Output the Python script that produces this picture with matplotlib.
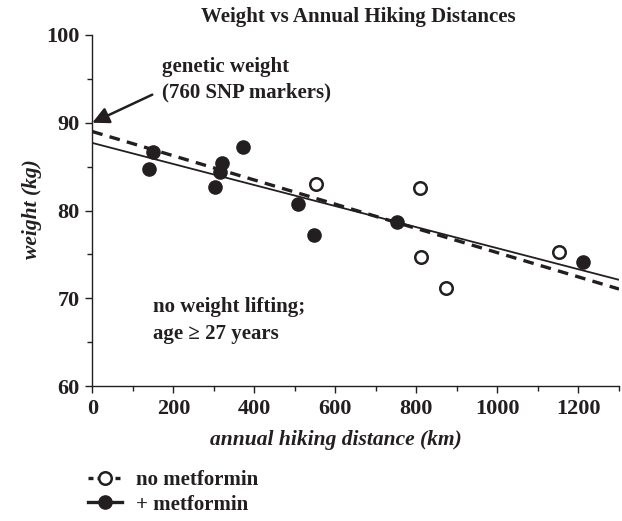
import matplotlib
matplotlib.use("Agg")
import matplotlib.pyplot as plt
from matplotlib.lines import Line2D
from matplotlib.ticker import MultipleLocator

plt.rcParams['font.family'] = ['Liberation Serif', 'DejaVu Serif']

INK = '#231f20'

# + metformin (filled)
met_x = [139, 151, 302, 315, 320, 372, 507, 546, 752, 1210]
met_y = [84.7, 86.7, 82.65, 84.4, 85.4, 87.2, 80.75, 77.2, 78.7, 74.1]
# no metformin (open)
nomet_x = [551, 810, 812, 872, 1152]
nomet_y = [83.0, 82.6, 74.75, 71.2, 75.3]

# fitted lines (endpoints)
line_x = [0, 1300]
solid_y = [87.7, 72.1]
dashed_y = [89.0, 71.05]

x_ticks = [0, 200, 400, 600, 800, 1000, 1200]
y_ticks = [60, 70, 80, 90, 100]

fig = plt.figure(figsize=(6.22, 5.21), dpi=100)
ax = fig.add_axes([92.3/622, 1-386/521, (619-92.3)/622, (386-35)/521])

ax.plot(line_x, solid_y, color=INK, lw=1.3, solid_capstyle='butt', zorder=2)
ax.plot(line_x, dashed_y, color=INK, lw=2.4, dashes=(3.2, 2.2), zorder=2)
ax.plot(met_x, met_y, 'o', ms=9.5, color=INK, mec=INK, zorder=3, clip_on=False)
ax.plot(nomet_x, nomet_y, 'o', ms=9.0, mfc='white', mec=INK, mew=1.8, zorder=3, clip_on=False)

ax.set_xlim(0, 1300)
ax.set_ylim(60, 100)
ax.set_xticks(x_ticks)
ax.set_yticks(y_ticks)
ax.xaxis.set_minor_locator(MultipleLocator(100))
ax.yaxis.set_minor_locator(MultipleLocator(5))
for s in ['top', 'right']:
    ax.spines[s].set_visible(False)
for s in ['left', 'bottom']:
    ax.spines[s].set_color(INK)
    ax.spines[s].set_linewidth(1.0)
ax.tick_params(which='major', length=5, width=1.0, color=INK, direction='out')
ax.tick_params(which='minor', length=3.5, width=1.0, color=INK, direction='out')
ax.tick_params(labelsize=16, labelcolor=INK, pad=4)
for lab in ax.get_xticklabels() + ax.get_yticklabels():
    lab.set_fontweight('bold')

ax.set_xlabel('annual hiking distance (km)', fontsize=15.5, fontweight='bold', style='italic', color=INK)
ax.xaxis.set_label_coords(600/1300, -0.124)
ax.set_ylabel('weight (kg)', fontsize=15.5, fontweight='bold', style='italic', color=INK)
ax.yaxis.set_label_coords(-0.095, 0.505)
fig.text(358/622, 1-17/521, 'Weight vs Annual Hiking Distances', ha='center', va='center',
         fontsize=15, fontweight='bold', color=INK)

ax.text(172, 96.4, 'genetic weight', fontsize=15, fontweight='bold', color=INK, va='center', ha='left')
ax.text(172, 93.5, '(760 SNP markers)', fontsize=15, fontweight='bold', color=INK, va='center', ha='left')
ax.annotate('', xy=(0, 90), xytext=(148, 93.2),
            arrowprops=dict(arrowstyle='-|>,head_length=1.0,head_width=0.5', color=INK, lw=1.8, shrinkA=0, shrinkB=0),
            annotation_clip=False)
ax.text(150, 69.0, 'no weight lifting;', fontsize=15, fontweight='bold', color=INK, va='center', ha='left')
ax.text(150, 65.9, 'age \u2265 27 years', fontsize=15, fontweight='bold', color=INK, va='center', ha='left')

handles = [
    Line2D([0], [0], color=INK, lw=2.4, dashes=(1.5, 1.2), marker='o', ms=9, mfc='white', mec=INK, mew=1.8),
    Line2D([0], [0], color=INK, lw=2.4, marker='o', ms=9.5, mfc=INK, mec=INK),
]
fig.legend(handles, ['no metformin', '+ metformin'], loc='upper left',
           bbox_to_anchor=(80/622, 1-462/521), frameon=False, handlelength=1.6,
           handletextpad=0.7, labelspacing=0.2, borderaxespad=0,
           prop=dict(family='Liberation Serif', weight='bold', size=15), labelcolor=INK)

fig.savefig('out.png', dpi=100)
